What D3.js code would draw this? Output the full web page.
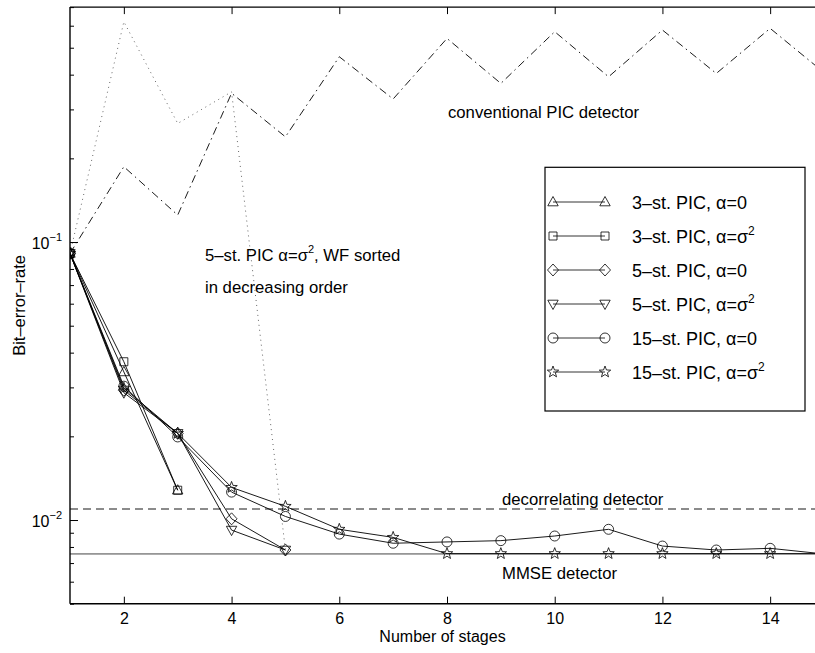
<!DOCTYPE html>
<html>
<head>
<meta charset="utf-8">
<script src="https://cdn.jsdelivr.net/npm/d3@7"></script>
<style>
  html, body { margin: 0; padding: 0; background: #fff; }
  svg { display: block; }
  text { font-family: "Liberation Sans", Arial, Helvetica, sans-serif; fill: #000; }
</style>
</head>
<body>
<svg id="chart" width="815" height="653"></svg>
<script>
// ---------------- data ----------------
const stages = [1,2,3,4,5,6,7,8,9,10,11,12,13,14,15];
const xTicks = [2,4,6,8,10,12,14];
const yMajorTicks = [0.01, 0.1];
const yMajorLabels = ["10", "10"];
const yMajorExps = ["\u22122", "\u22121"];
const yMinorTicks = [0.005,0.006,0.007,0.008,0.009,0.02,0.03,0.04,0.05,0.06,0.07,0.08,0.09,0.2,0.3,0.4,0.5,0.6,0.7];

const pic3a0   = [0.091, 0.0341, 0.0128];
const pic3aS   = [0.091, 0.0371, 0.0128];
const pic5a0   = [0.091, 0.0293, 0.0205, 0.0101, 0.0078];
const pic5aS   = [0.091, 0.0287, 0.0205, 0.0092, 0.0078];
const pic15a0  = [0.091, 0.0303, 0.0199, 0.0126, 0.0103, 0.0089, 0.00825, 0.00834, 0.00843, 0.00876, 0.00926, 0.00806, 0.0078, 0.00791, 0.00755];
const pic15aS  = [0.091, 0.0298, 0.0205, 0.0131, 0.0112, 0.00926, 0.00866, 0.00757, 0.00757, 0.00757, 0.00757, 0.00757, 0.00757, 0.00757, 0.00757];
const wfSorted = [0.091, 0.62, 0.267, 0.347, 0.0078];
const conventional = [0.091, 0.1866, 0.125, 0.343, 0.239, 0.464, 0.327, 0.540, 0.372, 0.571, 0.393, 0.579, 0.404, 0.587, 0.407];
const mmseLevel = 0.00755;
const decorrLevel = 0.01095;

const legendLabels = [
  {main: "3\u2013st. PIC, \u03B1=0", sup: ""},
  {main: "3\u2013st. PIC, \u03B1=\u03C3", sup: "2"},
  {main: "5\u2013st. PIC, \u03B1=0", sup: ""},
  {main: "5\u2013st. PIC, \u03B1=\u03C3", sup: "2"},
  {main: "15\u2013st. PIC, \u03B1=0", sup: ""},
  {main: "15\u2013st. PIC, \u03B1=\u03C3", sup: "2"}
];
const markerKinds = ["triangle", "square", "diamond", "triangleDown", "circle", "star"];
const seriesList = [pic3a0, pic3aS, pic5a0, pic5aS, pic15a0, pic15aS];

// ---------------- layout ----------------
const svg = d3.select("#chart");
const L = 70, R = 824, T = 7.1, B = 603.7;
const x = d3.scaleLinear().domain([1, 15]).range([L, R]);
const y = d3.scaleLog().domain([0.005, 0.7]).range([B, T]);

svg.append("defs").append("clipPath").attr("id", "clip")
  .append("rect").attr("x", L).attr("y", T).attr("width", R - L).attr("height", B - T);

const plot = svg.append("g").attr("clip-path", "url(#clip)");

// reference lines
plot.append("line")
  .attr("x1", x(1)).attr("x2", x(15)).attr("y1", y(decorrLevel)).attr("y2", y(decorrLevel))
  .attr("stroke", "#666").attr("stroke-width", 1.5).attr("stroke-dasharray", "8,5");
plot.append("line")
  .attr("x1", x(1)).attr("x2", x(15)).attr("y1", y(mmseLevel)).attr("y2", y(mmseLevel))
  .attr("stroke", "#444").attr("stroke-width", 1);

const line = d3.line().x((d, i) => x(stages[i])).y(d => y(d));

// conventional PIC (dash-dot)
plot.append("path").datum(conventional).attr("d", line)
  .attr("fill", "none").attr("stroke", "#000").attr("stroke-width", 0.9)
  .attr("stroke-dasharray", "8,4,1.5,4");
// WF sorted (dotted)
plot.append("path").datum(wfSorted).attr("d", line)
  .attr("fill", "none").attr("stroke", "#666").attr("stroke-width", 1)
  .attr("stroke-dasharray", "1,4");

// marker path generators (relative shapes)
function markerPath(kind) {
  switch (kind) {
    case "triangle": return "M0,-5.5L5.2,3.8L-5.2,3.8Z";
    case "triangleDown": return "M0,5.5L5.2,-3.8L-5.2,-3.8Z";
    case "square": return "M-4,-4L4,-4L4,4L-4,4Z";
    case "diamond": return "M0,-6L5.5,0L0,6L-5.5,0Z";
    case "circle": return d3.arc()({innerRadius: 0, outerRadius: 5, startAngle: 0, endAngle: 2 * Math.PI});
    case "star": {
      const pts = [];
      for (let k = 0; k < 10; k++) {
        const r = k % 2 === 0 ? 6 : 2.5;
        const a = -Math.PI / 2 + k * Math.PI / 5;
        pts.push([r * Math.cos(a), r * Math.sin(a)]);
      }
      return "M" + pts.map(p => p[0].toFixed(2) + "," + p[1].toFixed(2)).join("L") + "Z";
    }
  }
}

seriesList.forEach((s, si) => {
  const g = plot.append("g");
  g.append("path").datum(s).attr("d", line)
    .attr("fill", "none").attr("stroke", "#000").attr("stroke-width", 0.9);
  g.selectAll("path.m").data(s).enter().append("path").attr("class", "m")
    .attr("d", markerPath(markerKinds[si]))
    .attr("transform", (d, i) => `translate(${x(stages[i])},${y(d)})`)
    .attr("fill", "none").attr("stroke", "#000").attr("stroke-width", 0.8);
});

// ---------------- axes ----------------
const axisColor = "#000";
// bottom
const xAxis = svg.append("g").attr("transform", `translate(0,${B})`)
  .call(d3.axisBottom(x).tickValues(xTicks).tickSize(-7).tickPadding(9).tickFormat(d3.format("d")));
xAxis.select(".domain").remove();
xAxis.selectAll("text").attr("font-size", 16).attr("font-family", "Liberation Sans, Arial, sans-serif");
// top ticks
const xTop = svg.append("g").attr("transform", `translate(0,${T})`)
  .call(d3.axisTop(x).tickValues(xTicks).tickSize(-7).tickFormat(""));
xTop.select(".domain").remove();
// left major
const yMaj = svg.append("g").attr("transform", `translate(${L},0)`)
  .call(d3.axisLeft(y).tickValues(yMajorTicks).tickSize(-8).tickFormat(""));
yMaj.select(".domain").remove();
const yMin = svg.append("g").attr("transform", `translate(${L},0)`)
  .call(d3.axisLeft(y).tickValues(yMinorTicks).tickSize(-4).tickFormat(""));
yMin.select(".domain").remove();
svg.selectAll(".tick line").attr("stroke", axisColor).attr("stroke-width", 1);

// frame lines
svg.append("line").attr("x1", L).attr("x2", L).attr("y1", T).attr("y2", B).attr("stroke", "#000").attr("stroke-width", 1.4);
svg.append("line").attr("x1", L).attr("x2", 815).attr("y1", B).attr("y2", B).attr("stroke", "#000").attr("stroke-width", 1.4);
svg.append("line").attr("x1", L).attr("x2", 815).attr("y1", T).attr("y2", T).attr("stroke", "#000").attr("stroke-width", 1.4);

// y tick labels with superscript
yMajorTicks.forEach((v, i) => {
  const t = svg.append("text").attr("x", 62).attr("y", y(v) + 7).attr("text-anchor", "end").attr("font-size", 16);
  t.append("tspan").text(yMajorLabels[i]);
  t.append("tspan").attr("dy", -8).attr("font-size", 11).text(yMajorExps[i]);
});

// axis labels
svg.append("text").attr("x", (L + 815) / 2).attr("y", 642).attr("text-anchor", "middle")
  .attr("font-size", 16).text("Number of stages");
svg.append("text").attr("transform", `translate(25,${(T + B) / 2}) rotate(-90)`)
  .attr("text-anchor", "middle").attr("font-size", 16.5).text("Bit\u2013error\u2013rate");

// annotations
const fs = 16.7;
svg.append("text").attr("x", 448).attr("y", 117.5).attr("font-size", fs).text("conventional PIC detector");
svg.append("text").attr("x", 502).attr("y", 505).attr("font-size", fs).text("decorrelating detector");
svg.append("text").attr("x", 502).attr("y", 578.5).attr("font-size", fs).text("MMSE detector");
const a1 = svg.append("text").attr("x", 205).attr("y", 261).attr("font-size", fs);
a1.append("tspan").text("5\u2013st. PIC \u03B1=\u03C3");
a1.append("tspan").attr("dy", -8).attr("font-size", 11).text("2");
a1.append("tspan").attr("dy", 8).text(", WF sorted");
svg.append("text").attr("x", 205).attr("y", 293).attr("font-size", fs).text("in decreasing order");

// ---------------- legend ----------------
const lg = svg.append("g");
lg.append("rect").attr("x", 545).attr("y", 167.3).attr("width", 260).attr("height", 243.7)
  .attr("fill", "#fff").attr("stroke", "#000").attr("stroke-width", 1.2);
legendLabels.forEach((lab, i) => {
  const cy = 202 + i * 34;
  const row = lg.append("g");
  row.append("line").attr("x1", 553).attr("x2", 605).attr("y1", cy).attr("y2", cy)
    .attr("stroke", "#000").attr("stroke-width", 0.8);
  [553, 605].forEach(px => {
    row.append("path").attr("d", markerPath(markerKinds[i]))
      .attr("transform", `translate(${px},${cy})`)
      .attr("fill", "none").attr("stroke", "#000").attr("stroke-width", 0.8);
  });
  const t = row.append("text").attr("x", 632).attr("y", cy + 6.5).attr("font-size", 18);
  t.append("tspan").text(lab.main);
  if (lab.sup) t.append("tspan").attr("dy", -8).attr("font-size", 12).text(lab.sup);
});
</script>
</body>
</html>
